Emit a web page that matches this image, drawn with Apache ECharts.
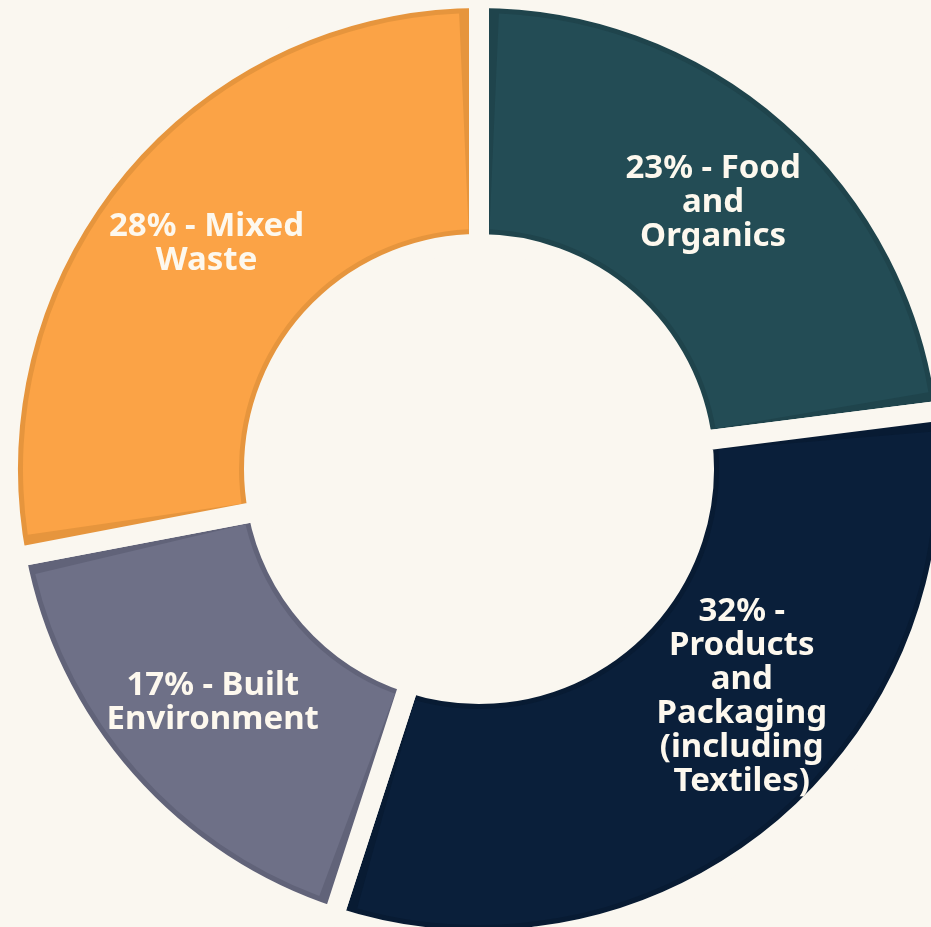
<!DOCTYPE html>
<html>
<head>
<meta charset="utf-8">
<script src="https://cdn.jsdelivr.net/npm/echarts@6/dist/echarts.min.js"></script>
<style>
  html, body { margin: 0; padding: 0; background: #faf7f0; }
  #main { width: 931px; height: 927px; }
</style>
</head>
<body>
<div id="main"></div>
<script>
// data
var categories = ['Food and Organics', 'Products and Packaging (including Textiles)', 'Built Environment', 'Mixed Waste'];
var shares = [23, 32, 17, 28];
var labelTexts = [
    '23% - Food\nand\nOrganics',
    '32% -\nProducts\nand\nPackaging\n(including\nTextiles)',
    '17% - Built\nEnvironment',
    '28% - Mixed\nWaste'
];

var fillColors = ['#234c55', '#0a1f3a', '#6e7087', '#fba346'];
var edgeColors = ['#1f444c', '#081b33', '#616379', '#e6953d'];
var labelShift = [[2, -3], [39, -43], [-3, 1], [-2, -2]];
var bg = '#faf7f0';

var myChart = echarts.init(document.getElementById('main'));

function build(colors, showLabel) {
    var out = [];
    for (var i = 0; i < categories.length; i++) {
        out.push({
            name: categories[i],
            value: shares[i],
            itemStyle: { color: colors[i] },
            label: { show: showLabel, offset: labelShift[i] }
        });
    }
    return out;
}

var option = {
    backgroundColor: bg,
    animation: false,
    series: [
        {
            // darker rim, gaps made with a background coloured border
            type: 'pie',
            center: [479, 469],
            radius: [225, 471],
            startAngle: 90,
            clockwise: true,
            silent: true,
            label: { show: false },
            labelLine: { show: false },
            itemStyle: { borderColor: bg, borderWidth: 20 },
            data: build(edgeColors, false)
        },
        {
            type: 'pie',
            center: [479, 469],
            radius: [240, 456],
            startAngle: 90,
            clockwise: true,
            padAngle: 5,
            silent: true,
            labelLine: { show: false },
            label: {
                position: 'inside',
                color: '#fdf8ee',
                fontFamily: 'Noto Sans',
                fontWeight: 'bold',
                fontSize: 33,
                lineHeight: 34,
                align: 'center',
                formatter: function (p) { return labelTexts[p.dataIndex]; }
            },
            data: build(fillColors, true)
        }
    ]
};
myChart.setOption(option);
</script>
</body>
</html>
